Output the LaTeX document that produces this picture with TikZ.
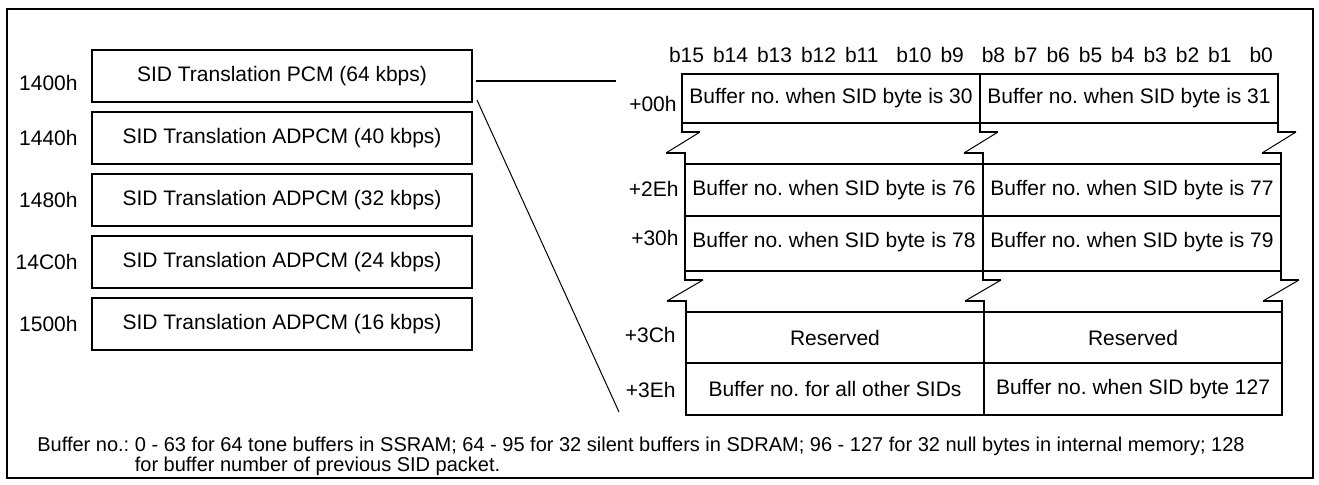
\documentclass[tikz,border=0pt]{standalone}
\usepackage{fontspec}
\setmainfont{Liberation Sans}
\usetikzlibrary{positioning}
\usetikzlibrary{calc}
\tikzset{
    slot/.style = {draw, line width=1pt, minimum width=190pt, minimum height=26pt,
        inner sep=0pt, font=\fontsize{10.5}{12}\selectfont},
    cell/.style = {draw, line width=1pt, minimum width=149pt, inner sep=0pt,
        outer sep=0pt, font=\fontsize{10.5}{12}\selectfont},
    addr/.style = {inner sep=0pt, font=\fontsize{10.5}{12}\selectfont},
}
\newcommand{\zbreak}[2]{%
    \draw[line width=1pt] (#1) -- ++(0,9) -- ++(18,0);
    \draw[line width=0.5pt] ($(#1)+(18,9)$) -- ($(#2)+(-19,-11)$);
    \draw[line width=1pt] ($(#2)+(-19,-11)$) -- ($(#2)+(0,-11)$) -- (#2);
}

\begin{document}
\frenchspacing
\begin{tikzpicture}[x=0.5pt, y=-0.5pt]
    \useasboundingbox (0,0) rectangle (1319,484);
    \draw[line width=1pt] (7,9) rectangle (1313,478);

    % translation blocks
    \node[slot] (pcm) at (282,76) {SID Translation PCM (64 kbps)};
    \node[slot, below=4pt of pcm] (ad40) {SID Translation ADPCM (40 kbps)};
    \node[slot, below=4pt of ad40] (ad32) {SID Translation ADPCM (32 kbps)};
    \node[slot, below=4pt of ad32] (ad24) {SID Translation ADPCM (24 kbps)};
    \node[slot, below=4pt of ad24] (ad16) {SID Translation ADPCM (16 kbps)};
    \node[addr, left=6.5pt of pcm, yshift=-3.5pt] (a1400) {1400h};
    \node[addr, left=6.5pt of ad40] (a1440) {1440h};
    \node[addr, left=6.5pt of ad32] (a1480) {1480h};
    \node[addr, left=6.5pt of ad24] (a14C0) {14C0h};
    \node[addr, left=6.5pt of ad16] (a1500) {1500h};

    \coordinate (cA) at (616,81);
    \coordinate (cB) at (619,412);
    \draw[line width=1pt] ($(pcm.east)+(3,5)$) -- (cA);
    \draw[line width=0.5pt] ($(pcm.south east)+(4,-3)$) -- (cB);

    % one table, 16 bit words
    \node[addr] (bits) at (971,55)
        {\makebox[302pt][s]{b15 b14 b13 b12 b11\ \ b10 b9\ \ b8 b7 b6 b5 b4 b3 b2 b1\ \ b0}};

    \node[cell, minimum height=24.5pt] (r1a) at (831,98.5) {Buffer no.\ when SID byte is 30};
    \node[cell, minimum height=24.5pt, right=0pt of r1a] (r1b) {Buffer no.\ when SID byte is 31};
    \node[cell, minimum height=26pt] (r2a) at (834,190) {Buffer no.\ when SID byte is 76};
    \node[cell, minimum height=26pt, right=0pt of r2a] (r2b) {Buffer no.\ when SID byte is 77};
    \node[cell, minimum height=27.5pt, below=0pt of r2a, text depth=4pt] (r3a) {Buffer no.\ when SID byte is 78};
    \node[cell, minimum height=27.5pt, right=0pt of r3a, text depth=4pt] (r3b) {Buffer no.\ when SID byte is 79};
    \node[cell, minimum height=25.5pt] (r4a) at (835,337.5) {Reserved};
    \node[cell, minimum height=25.5pt, right=0pt of r4a] (r4b) {Reserved};
    \node[cell, minimum height=26pt, below=0pt of r4a] (r5a) {Buffer no.\ for all other SIDs};
    \node[cell, minimum height=26pt, right=0pt of r5a] (r5b) {Buffer no.\ when SID byte 127};

    \node[addr, anchor=east] (o00) at (677,104) {+00h};
    \node[addr, anchor=east] (o2E) at (679,189) {+2Eh};
    \node[addr, anchor=east] (o30) at (679,238) {+30h};
    \node[addr, anchor=east] (o3C) at (676,335) {+3Ch};
    \node[addr, anchor=east] (o3E) at (676,390) {+3Eh};

    \zbreak{r1a.south west}{r2a.north west}
    \zbreak{r1b.south west}{r2b.north west}
    \zbreak{r1b.south east}{r2b.north east}
    \zbreak{r3a.south west}{r4a.north west}
    \zbreak{r3b.south west}{r4b.north west}
    \zbreak{r3b.south east}{r4b.north east}

    \node[addr, anchor=west, align=left, font=\fontsize{10}{10}\selectfont] (note) at (37,456)
        {Buffer no.:\ 0 - 63 for 64 tone buffers in SSRAM; 64 - 95 for 32 silent buffers in SDRAM; 96 - 127 for 32 null bytes in internal memory; 128\\
         \phantom{Buffer no.:\ }for buffer number of previous SID packet.};
\end{tikzpicture}
\end{document}
